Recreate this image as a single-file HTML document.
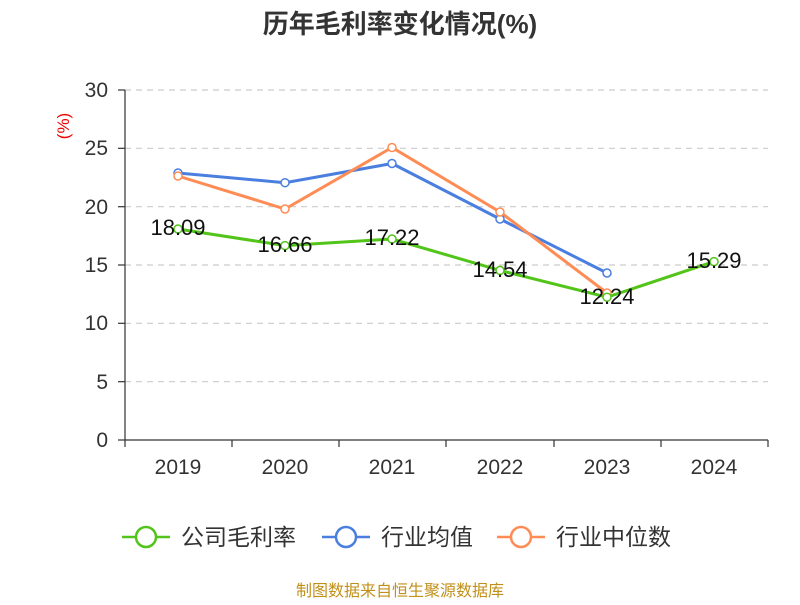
<!DOCTYPE html>
<html><head><meta charset="utf-8"><style>body{margin:0;background:#fff}</style></head>
<body>
<svg width="800" height="600" xmlns="http://www.w3.org/2000/svg" font-family="Liberation Sans, Noto Sans CJK SC, sans-serif">
<rect width="800" height="600" fill="#fff"/>
<text x="400" y="33" text-anchor="middle" font-size="26" font-weight="bold" fill="#333">历年毛利率变化情况(%)</text>
<text transform="translate(69,126) rotate(-90)" text-anchor="middle" font-size="17" fill="#e00">(%)</text>
<g stroke="#ccc" stroke-dasharray="6,5" stroke-width="1.2">
<line x1="125" y1="90" x2="768" y2="90"/><line x1="125" y1="148.3" x2="768" y2="148.3"/><line x1="125" y1="206.7" x2="768" y2="206.7"/><line x1="125" y1="265" x2="768" y2="265"/><line x1="125" y1="323.3" x2="768" y2="323.3"/><line x1="125" y1="381.7" x2="768" y2="381.7"/>
</g>
<g stroke="#333" stroke-width="1.2">
<line x1="125" y1="90" x2="125" y2="440"/><line x1="125" y1="440" x2="768" y2="440"/>
<line x1="118" y1="90" x2="125" y2="90"/><line x1="118" y1="148.3" x2="125" y2="148.3"/><line x1="118" y1="206.7" x2="125" y2="206.7"/><line x1="118" y1="265" x2="125" y2="265"/><line x1="118" y1="323.3" x2="125" y2="323.3"/><line x1="118" y1="381.7" x2="125" y2="381.7"/><line x1="118" y1="440" x2="125" y2="440"/>
<line x1="125" y1="440" x2="125" y2="447"/><line x1="232" y1="440" x2="232" y2="447"/><line x1="339" y1="440" x2="339" y2="447"/><line x1="446" y1="440" x2="446" y2="447"/><line x1="554" y1="440" x2="554" y2="447"/><line x1="661" y1="440" x2="661" y2="447"/><line x1="768" y1="440" x2="768" y2="447"/>
</g>
<g font-size="21" fill="#333" text-anchor="end">
<text x="108" y="97">30</text><text x="108" y="155">25</text><text x="108" y="214">20</text><text x="108" y="272">15</text><text x="108" y="330">10</text><text x="108" y="389">5</text><text x="108" y="447">0</text>
</g>
<g font-size="21" fill="#333" text-anchor="middle">
<text x="178" y="474">2019</text><text x="285" y="474">2020</text><text x="392" y="474">2021</text><text x="500" y="474">2022</text><text x="607" y="474">2023</text><text x="714" y="474">2024</text>
</g>
<g fill="none" stroke-width="3">
<polyline stroke="#4a7fe0" points="178,173 285,182.7 392,163.5 500,219 607,273"/>
<polyline stroke="#ff8c55" points="178,176 285,209 392,147.5 500,212 607,293"/>
<polyline stroke="#52c41a" points="178,229 285,245.6 392,239 500,270.4 607,297.2 714,261.6"/>
</g>
<g fill="#fff" stroke-width="1.5">
<g stroke="#4a7fe0"><circle cx="178" cy="173" r="4"/><circle cx="285" cy="182.7" r="4"/><circle cx="392" cy="163.5" r="4"/><circle cx="500" cy="219" r="4"/><circle cx="607" cy="273" r="4"/></g>
<g stroke="#ff8c55"><circle cx="178" cy="176" r="4"/><circle cx="285" cy="209" r="4"/><circle cx="392" cy="147.5" r="4"/><circle cx="500" cy="212" r="4"/><circle cx="607" cy="293" r="4"/></g>
<g stroke="#52c41a"><circle cx="178" cy="229" r="4"/><circle cx="285" cy="245.6" r="4"/><circle cx="392" cy="239" r="4"/><circle cx="500" cy="270.4" r="4"/><circle cx="607" cy="297.2" r="4"/><circle cx="714" cy="261.6" r="4"/></g>
</g>
<g font-size="22" fill="#111" text-anchor="middle">
<text x="178" y="235">18.09</text><text x="285" y="252">16.66</text><text x="392" y="245">17.22</text><text x="500" y="277">14.54</text><text x="607" y="304">12.24</text><text x="714" y="268">15.29</text>
</g>
<g stroke-width="2.5" fill="#fff">
<line x1="122" y1="537" x2="170" y2="537" stroke="#52c41a"/><circle cx="146" cy="537" r="10" stroke="#52c41a"/>
<line x1="322" y1="537" x2="370" y2="537" stroke="#4a7fe0"/><circle cx="346" cy="537" r="10" stroke="#4a7fe0"/>
<line x1="497" y1="537" x2="545" y2="537" stroke="#ff8c55"/><circle cx="521" cy="537" r="10" stroke="#ff8c55"/>
</g>
<g font-size="23" fill="#333">
<text x="181" y="545">公司毛利率</text><text x="381" y="545">行业均值</text><text x="556" y="545">行业中位数</text>
</g>
<text x="400" y="596" text-anchor="middle" font-size="16" fill="#c0901a">制图数据来自恒生聚源数据库</text>
</svg>
</body></html>
